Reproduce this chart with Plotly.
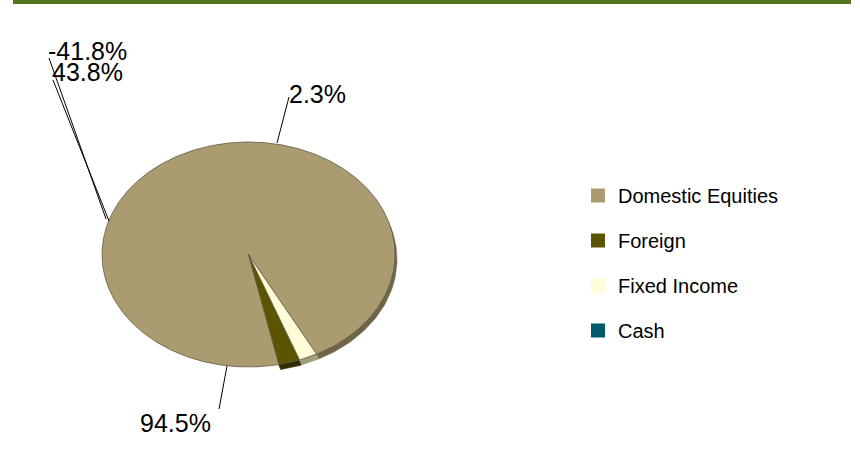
import numpy as np
import plotly.graph_objects as go

# ---- data ----
categories = ["Domestic Equities", "Foreign", "Fixed Income", "Cash"]
slice_values = [94.5, 2.3, 2.0, 0.0]          # visible share of each wedge
label_text = ["94.5%", "2.3%", "43.8%", "-41.8%"]  # labels as printed on the chart

top_colors = ["#AA9C70", "#5A5500", "#FFFCD8", "#005A6B"]
side_colors = ["#6E6448", "#2E2B00", "#A09C7E", "#003340"]

# ---- pie geometry (pixel-like axis units) ----
W, H = 860, 451
cx, cy = 248.5, 254.5
rx, ry = 146.5, 112.5
start_t = 512.3          # degrees, clockwise from 12 o'clock, slices go counterclockwise
depth = (2, 5)
side_range = (75, 168.2)   # part of the rim where the thickness shows


def ell(t, dx=0, dy=0):
    r = np.radians(t)
    return cx + rx * np.sin(r) + dx, cy - ry * np.cos(r) + dy


fig = go.Figure()

total = sum(slice_values)
edges = [start_t]
for v in slice_values:
    edges.append(edges[-1] - v / total * 360)

# side bands first
for i, v in enumerate(slice_values):
    if v <= 0:
        continue
    hi, lo = edges[i], edges[i + 1]
    for k in (-360, 0, 360):
        a = max(lo + k, side_range[0])
        b = min(hi + k, side_range[1])
        if b - a <= 0.1:
            continue
        t = np.linspace(a, b, 60)
        x1, y1 = ell(t)
        x2, y2 = ell(t[::-1], *depth)
        fig.add_trace(go.Scatter(
            x=np.r_[x1, x2, x1[:1]], y=np.r_[y1, y2, y1[:1]],
            mode="lines", fill="toself", fillcolor=side_colors[i],
            line=dict(color=side_colors[i], width=0.5),
            hoverinfo="skip", showlegend=False,
        ))

# top faces
for i, v in enumerate(slice_values):
    if v <= 0:
        continue
    hi, lo = edges[i], edges[i + 1]
    t = np.linspace(hi, lo, max(int((hi - lo) * 2), 10))
    x, y = ell(t)
    fig.add_trace(go.Scatter(
        x=np.r_[cx, x, cx], y=np.r_[cy, y, cy],
        mode="lines", fill="toself", fillcolor=top_colors[i],
        line=dict(color="#5F573F", width=0.8),
        name=categories[i], hoverinfo="name", showlegend=False,
    ))

# legend entries
for i, c in enumerate(categories):
    fig.add_trace(go.Scatter(
        x=[None], y=[None], mode="markers", name=c, legendgroup=c,
        marker=dict(symbol="square", size=14, color=top_colors[i]),
    ))

# labels with leader lines: (label index, text left x, text mid y, line start, line end)
label_spots = [
    (3, 46, 51, (49, 58), (106, 219)),
    (2, 50, 72, (53, 80), (109, 221)),
    (1, 287, 94, (289, 97), (277, 143)),
    (0, 138, 423, (219, 409), (227, 366)),
]
for idx, tx, ty, p0, p1 in label_spots:
    fig.add_trace(go.Scatter(
        x=[p0[0], p1[0]], y=[p0[1], p1[1]], mode="lines",
        line=dict(color="black", width=1), hoverinfo="skip", showlegend=False,
    ))
    fig.add_annotation(
        x=tx, y=ty, text=label_text[idx], showarrow=False,
        xanchor="left", yanchor="middle",
        font=dict(family="Liberation Sans, Arial", size=25, color="black"),
    )

# green rule at top
fig.add_shape(type="rect", x0=13, x1=851, y0=0, y1=4,
              fillcolor="#52741F", line_width=0, layer="above")

fig.update_layout(
    width=W, height=H,
    margin=dict(l=0, r=0, t=0, b=0),
    paper_bgcolor="white", plot_bgcolor="white",
    xaxis=dict(range=[0, W], visible=False, fixedrange=True),
    yaxis=dict(range=[H, 0], visible=False, fixedrange=True),
    showlegend=True,
    legend=dict(
        x=578 / W, y=1 - 176 / H, xanchor="left", yanchor="top",
        font=dict(family="Liberation Sans, Arial", size=20, color="black"),
        tracegroupgap=16, bgcolor="rgba(0,0,0,0)",
    ),
)

# page has a default body margin; drop it so the figure sits at the window corner
fig.write_html("out.html", config={"displayModeBar": False},
               post_script="document.body.style.margin='0';")
